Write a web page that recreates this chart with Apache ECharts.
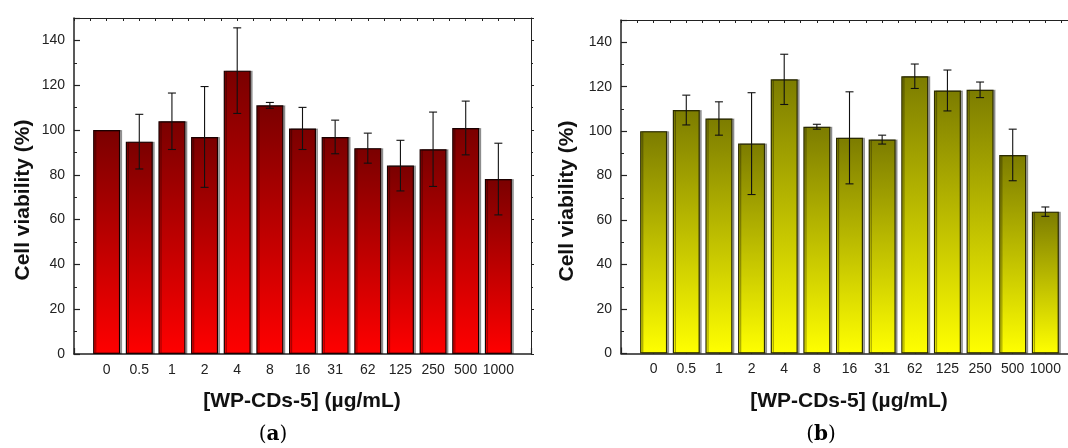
<!DOCTYPE html>
<html>
<head>
<meta charset="utf-8">
<script src="https://cdn.jsdelivr.net/npm/echarts@6/dist/echarts.min.js"></script>
<style>
  html, body { margin: 0; padding: 0; background: #fff; }
  #chart { width: 1068px; height: 448px; }
</style>
</head>
<body>
<div id="chart"></div>
<script>
// Concentrations of WP-CDs-5 (µg/mL) on the x axis
const categories = ['0', '0.5', '1', '2', '4', '8', '16', '31', '62', '125', '250', '500', '1000'];

// Panel (a): mean cell viability (%) and standard deviation
const viabilityA = [100, 94.8, 103.9, 96.9, 126.5, 111.0, 100.7, 96.9, 91.9, 84.1, 91.4, 100.9, 78.1];
const errorA     = [0, 12.2, 12.6, 22.5, 19.1, 1.3, 9.4, 7.5, 6.7, 11.3, 16.6, 12.0, 16.0];

// Panel (b): mean cell viability (%) and standard deviation
const viabilityB = [100, 109.5, 105.7, 94.4, 123.3, 102.0, 97.0, 96.2, 124.7, 118.3, 118.6, 89.3, 63.8];
const errorB     = [0, 6.7, 7.5, 22.9, 11.3, 1.1, 20.7, 2.0, 5.5, 9.2, 3.5, 11.6, 2.1];

const FONT = "'Liberation Sans', Arial, sans-serif";
const AXIS_COLOR = '#222';

const chart = echarts.init(document.getElementById('chart'), null, { renderer: 'canvas' });

function catLabel(v) {
  const i = Math.round(v);
  if (Math.abs(v - i) > 1e-6 || i < 0 || i >= categories.length) return '';
  return categories[i];
}

function bottomAxis(gridIndex) {
  return {
    type: 'value', gridIndex, position: 'bottom',
    min: -1, max: categories.length, interval: 1,
    axisLine: { show: true, onZero: false, lineStyle: { color: AXIS_COLOR, width: 1.5 } },
    axisTick: { show: true, inside: true, length: 6, lineStyle: { color: AXIS_COLOR, width: 1.2 } },
    axisLabel: { formatter: catLabel, margin: 9, color: '#222', fontSize: 14, fontFamily: FONT,
                 showMinLabel: true, showMaxLabel: true },
    splitLine: { show: false }
  };
}
function topAxis(gridIndex) {
  return {
    type: 'value', gridIndex, position: 'top',
    min: -1, max: categories.length, interval: 0.5,
    axisLine: { show: true, onZero: false, lineStyle: { color: AXIS_COLOR, width: 1 } },
    axisTick: { show: true, inside: true, length: 3, lineStyle: { color: AXIS_COLOR, width: 1 } },
    axisLabel: { show: false },
    splitLine: { show: false }
  };
}
function leftAxis(gridIndex) {
  return {
    type: 'value', gridIndex, position: 'left',
    min: 0, max: 150, interval: 20,
    axisLine: { show: true, onZero: false, lineStyle: { color: AXIS_COLOR, width: 1.5 } },
    axisTick: { show: true, inside: true, length: 6, lineStyle: { color: AXIS_COLOR, width: 1.2 } },
    minorTick: { show: true, splitNumber: 2, length: 3, lineStyle: { color: AXIS_COLOR, width: 1 } },
    axisLabel: { margin: 9, color: '#222', fontSize: 14, fontFamily: FONT, showMaxLabel: false },
    splitLine: { show: false }
  };
}
function rightAxis(gridIndex) {
  return {
    type: 'value', gridIndex, position: 'right',
    min: 0, max: 150, interval: 20,
    axisLine: { show: true, onZero: false, lineStyle: { color: AXIS_COLOR, width: 1 } },
    axisTick: { show: true, inside: false, length: 3, lineStyle: { color: AXIS_COLOR, width: 1 } },
    minorTick: { show: true, splitNumber: 2, length: 2, lineStyle: { color: AXIS_COLOR, width: 1 } },
    axisLabel: { show: false },
    splitLine: { show: false }
  };
}

function barSeries(axisIdx, values, topColor, bottomColor, borderColor) {
  return {
    type: 'bar',
    xAxisIndex: axisIdx, yAxisIndex: axisIdx,
    barWidth: 27,
    data: values.map((v, i) => [i, v]),
    itemStyle: {
      color: new echarts.graphic.LinearGradient(0, 0, 0, 1, [
        { offset: 0, color: topColor },
        { offset: 1, color: bottomColor }
      ]),
      borderColor: borderColor,
      borderWidth: 1.2,
      shadowColor: 'rgba(0,0,0,0.32)',
      shadowOffsetX: 2,
      shadowOffsetY: 0,
      shadowBlur: 0
    },
    emphasis: { disabled: true },
    z: 2
  };
}

function errorSeries(axisIdx, values, errors) {
  return {
    type: 'custom',
    xAxisIndex: axisIdx, yAxisIndex: axisIdx,
    data: values.map((v, i) => [i, v - errors[i], v + errors[i]]),
    encode: { x: 0, y: [1, 2] },
    renderItem: function (params, api) {
      const x = api.value(0), lo = api.value(1), hi = api.value(2);
      if (hi - lo < 1e-9) return null;
      const pLo = api.coord([x, lo]);
      const pHi = api.coord([x, hi]);
      const hw = 4;
      const style = { stroke: '#111', lineWidth: 1.1 };
      return {
        type: 'group',
        children: [
          { type: 'line', shape: { x1: pHi[0], y1: pHi[1], x2: pLo[0], y2: pLo[1] }, style },
          { type: 'line', shape: { x1: pHi[0] - hw, y1: pHi[1], x2: pHi[0] + hw, y2: pHi[1] }, style },
          { type: 'line', shape: { x1: pLo[0] - hw, y1: pLo[1], x2: pLo[0] + hw, y2: pLo[1] }, style }
        ]
      };
    },
    z: 5
  };
}

function vTitle(x, y) {
  return {
    type: 'text', x, y, rotation: Math.PI / 2,
    style: {
      text: 'Cell viability (%)', x: 0, y: 0, align: 'center', verticalAlign: 'middle',
      font: "bold 21px " + FONT, fill: '#111'
    }
  };
}
function hTitle(x, y) {
  return {
    type: 'text', x, y,
    style: {
      text: '[WP-CDs-5] (µg/mL)', x: 0, y: 0, align: 'center', verticalAlign: 'middle',
      font: "bold 21px " + FONT, fill: '#111'
    }
  };
}
function panelTag(x, y, letter) {
  return {
    type: 'text', x, y,
    style: {
      text: '{p|(}{b|' + letter + '}{p|)}', x: 0, y: 0, align: 'center', verticalAlign: 'middle',
      rich: {
        p: { fontFamily: "'DejaVu Serif', serif", fontSize: 20, color: '#111' },
        b: { fontFamily: "'DejaVu Serif', serif", fontSize: 20, fontWeight: 'bold', color: '#111' }
      }
    }
  };
}

chart.setOption({
  animation: false,
  backgroundColor: '#fff',
  grid: [
    { left: 74, top: 18, width: 457, height: 336, outerBoundsMode: 'none' },
    { left: 621, top: 20, width: 457, height: 333.5, outerBoundsMode: 'none' }
  ],
  xAxis: [bottomAxis(0), topAxis(0), bottomAxis(1), topAxis(1)],
  yAxis: [leftAxis(0), rightAxis(0), leftAxis(1), rightAxis(1)],
  series: [
    barSeries(0, viabilityA, '#7a0000', '#ff0000', '#1a0000'),
    errorSeries(0, viabilityA, errorA),
    barSeries(2, viabilityB, '#7c7c00', '#ffff00', '#2b2b00'),
    errorSeries(2, viabilityB, errorB),
    // empty series so the mirror axes have something bound to them
    { type: 'line', xAxisIndex: 1, yAxisIndex: 1, data: [], silent: true },
    { type: 'line', xAxisIndex: 3, yAxisIndex: 3, data: [], silent: true }
  ],
  graphic: [
    vTitle(23, 200),
    vTitle(567, 201),
    hTitle(302, 401),
    hTitle(849, 401),
    panelTag(273, 435, 'a'),
    panelTag(821, 435, 'b')
  ]
});
</script>
</body>
</html>
